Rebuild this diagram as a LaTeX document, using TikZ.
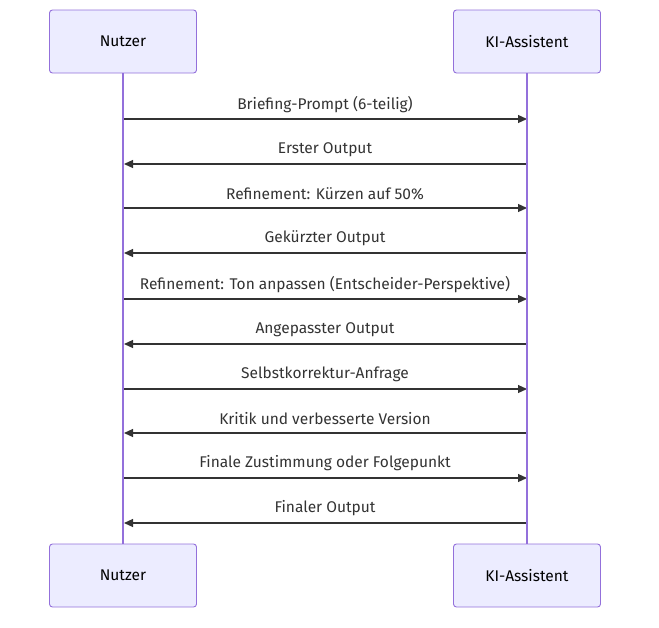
\documentclass[tikz,border=0pt]{standalone}
\usepackage{fontspec}
\setmainfont{Fira Sans}
\usetikzlibrary{arrows.meta}
\definecolor{actfill}{HTML}{ECECFF}
\definecolor{actline}{HTML}{9370DB}
\definecolor{msg}{HTML}{333333}
\begin{document}
\begin{tikzpicture}[x=1pt,y=-1pt,
  actor/.style={draw=actline,fill=actfill,rounded corners=3pt,line width=0.9pt,minimum width=147pt,minimum height=63pt,inner sep=0pt,font=\fontsize{15.5}{18}\selectfont,text=black},
  life/.style={draw=actline,line width=1.6pt},
  msgline/.style={draw=msg,line width=1.2pt,-{Triangle[length=9pt,width=8pt]}},
  lbl/.style={font=\fontsize{15.5}{18}\selectfont,text=msg,inner sep=0pt}]
\useasboundingbox (0,0) rectangle (659,627);
\node[actor] (nt) at (123,41.5) {Nutzer};
\node[actor] (kt) at (527,41.5) {KI-Assistent};
\node[actor] (nb) at (123,575.5) {Nutzer};
\node[actor] (kb) at (527,575.5) {KI-Assistent};
\foreach \y/\dir/\txt [count=\i] in {
  119/r/{Briefing-Prompt (6-teilig)},
  164/l/{Erster Output},
  208/r/{Refinement: Kürzen auf 50\%},
  253/l/{Gekürzter Output},
  299/r/{Refinement: Ton anpassen (Entscheider-Perspektive)},
  344/l/{Angepasster Output},
  389/r/{Selbstkorrektur-Anfrage},
  433/l/{Kritik und verbesserte Version},
  478/r/{Finale Zustimmung oder Folgepunkt},
  523/l/{Finaler Output}} {
  \coordinate (a\i) at (124,\y);
  \coordinate (b\i) at (527,\y);
  \node[lbl] (t\i) at (325,\y-14.5) {\txt};
  \if r\dir
    \draw[msgline] (a\i) -- (b\i);
  \else
    \draw[msgline] (b\i) -- (a\i);
  \fi
}
\draw[life] (nt.south) -- (nb.north);
\draw[life] (kt.south) -- (kb.north);
\end{tikzpicture}
\end{document}
